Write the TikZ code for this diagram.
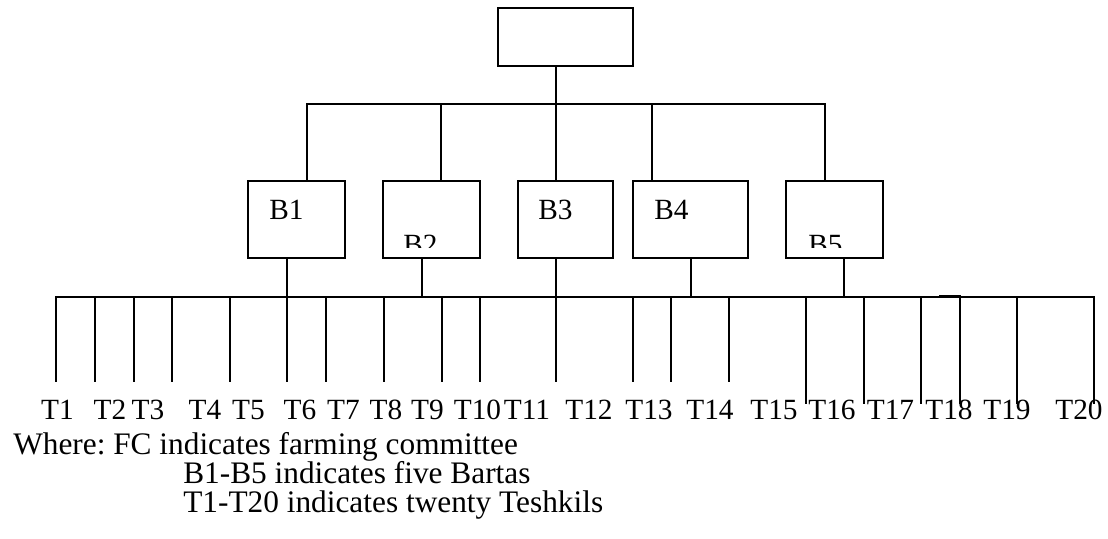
\documentclass[tikz,border=0pt]{standalone}
\usepackage{fontspec}
\setmainfont{Liberation Serif}
\frenchspacing
\begin{document}
\begin{tikzpicture}[x=0.75pt,y=-0.75pt,
  every node/.style={font=\fontsize{22}{26}\selectfont},
  ln/.style={line width=1.1pt,line cap=rect},
  box/.style={draw,line width=1.1pt,inner sep=0pt},
  lbl/.style={anchor=base west,inner sep=0pt},
  tl/.style={anchor=base,inner sep=0pt},
  leg/.style={anchor=base west,inner sep=0pt,font=\fontsize{23.5}{27}\selectfont}]
\useasboundingbox (0,0) rectangle (1108,539);
% boxes
\node[box,minimum width=101.25pt,minimum height=43.5pt] (fc) at (565.5,37) {};
\node[box,minimum width=72.75pt,minimum height=57.75pt] (b1) at (296.5,219.5) {};
\node[box,minimum width=72.75pt,minimum height=57.75pt] (b2) at (431.5,219.5) {};
\node[box,minimum width=71.25pt,minimum height=57.75pt] (b3) at (565.5,219.5) {};
\node[box,minimum width=86.25pt,minimum height=57.75pt] (b4) at (690.5,219.5) {};
\node[box,minimum width=72.75pt,minimum height=57.75pt] (b5) at (834.5,219.5) {};
% box labels
\node[lbl] (b1l) at (269,219) {B1};
\node[lbl] (b3l) at (538,219) {B3};
\node[lbl] (b4l) at (654,219) {B4};
\begin{scope}
\clip (383,181) rectangle (480,247);
\node[lbl] (b2l) at (403,254) {B2};
\end{scope}
\begin{scope}
\clip (786,181) rectangle (883,247);
\node[lbl] (b5l) at (808,254) {B5};
\end{scope}
% top bus
\coordinate (t0) at (556,104);
\foreach \x [count=\i] in {307,441,556,652,825}
  \coordinate (t\i) at (\x,104);
\draw[ln] (fc.south -| t0) -- (t0);
\draw[ln] (t1) -- (t5);
\foreach \i in {1,...,5}
  \draw[ln] (t\i) -- (t\i |- b\i.north);
% bottom stems
\foreach \x [count=\i] in {287,422,556,691,844}{
  \coordinate (s\i) at (\x,297);
  \draw[ln] (b\i.south -| s\i) -- (s\i);
}
% bottom bus and drops
\foreach \x/\y [count=\i] in {56/381,95/381,134/381,172/381,230/381,287/381,326/381,384/381,442/381,480/381,556/381,633/381,671/381,729/381,806/403,864/403,921/403,960/403,1017/403,1094/403}{
  \coordinate (d\i) at (\x,297);
  \coordinate (e\i) at (\x,\y);
  \draw[ln] (d\i) -- (e\i);
}
\draw[ln] (d1) -- (d20);
\coordinate (k1) at (940,295.5);
\coordinate (k2) at (960,295.5);
\draw[ln] (k1) -- (k2);
% T labels
\foreach \x [count=\i] in {57.5,110,148,205,248.5,300,343.5,386,427.5,477.5,527,589,649,710,774,832,890.5,949,1007,1079}
  \node[tl] (l\i) at (\x,419) {T\i};
% legend
\node[leg] (w1) at (13,454) {Where: FC indicates farming committee};
\node[leg] (w2) at (183,483) {B1-B5 indicates five Bartas};
\node[leg] (w3) at (183,512) {T1-T20 indicates twenty Teshkils};
\end{tikzpicture}
\end{document}
